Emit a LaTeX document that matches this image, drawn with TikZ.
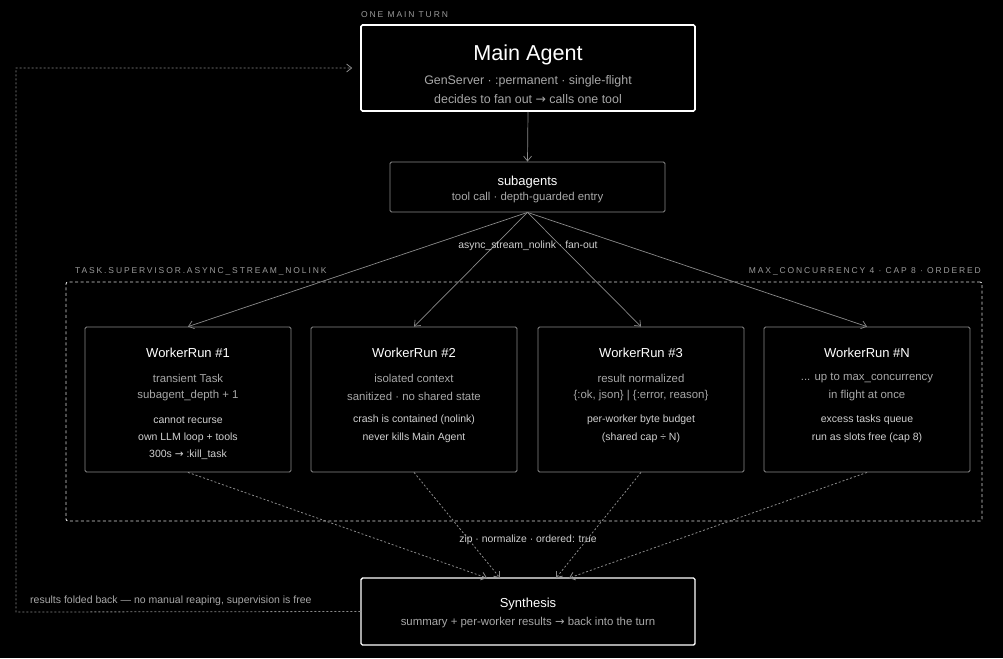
\documentclass[tikz,border=0pt]{standalone}
\usepackage{fontspec}
\setmainfont{Liberation Sans}
\newfontfamily\symf{DejaVu Sans}
\usetikzlibrary{arrows.meta,calc}
\definecolor{bg}{HTML}{000000}
\definecolor{dim}{HTML}{A8A8A8}
\definecolor{soft}{HTML}{D0D0D0}
\definecolor{edge}{HTML}{8A8A8A}
\definecolor{lbl}{HTML}{9A9A9A}
\newcommand{\arr}{{\symf →}}
\tikzset{
  mainbox/.style={draw=white, line width=1.6pt, rounded corners=1.5pt, minimum width=334pt, minimum height=86pt, inner sep=0pt},
  subbox/.style={draw=edge, line width=0.8pt, rounded corners=1.5pt, minimum width=275pt, minimum height=50pt, inner sep=0pt},
  workbox/.style={draw=edge, line width=0.8pt, rounded corners=1.5pt, minimum width=206pt, minimum height=145pt, inner sep=0pt},
  synbox/.style={draw=white, line width=1.4pt, rounded corners=1.5pt, minimum width=334pt, minimum height=67pt, inner sep=0pt},
  ttl/.style={text=white, font=\fontsize{13}{15}\selectfont, inner sep=0pt},
  bigsub/.style={text=dim, font=\fontsize{12.4}{14}\selectfont, inner sep=0pt},
  sub/.style={text=dim, font=\fontsize{11.4}{13}\selectfont, inner sep=0pt},
  low/.style={text=soft, font=\fontsize{10.5}{12}\selectfont, inner sep=0pt},
  lab/.style={text=soft, font=\fontsize{10.4}{12}\selectfont, inner sep=0pt},
  caps/.style={text=lbl, font=\fontsize{8.5}{10}\selectfont\addfontfeatures{LetterSpace=22}, inner sep=0pt},
  fan/.style={draw=edge, line width=0.7pt, -{Straight Barb[length=5pt,width=8pt]}},
  dotarrow/.style={draw=edge, line width=0.8pt, dash pattern=on 2pt off 2pt, -{Straight Barb[length=5pt,width=8pt]}},
}
\begin{document}
\begin{tikzpicture}[x=1pt,y=-1pt]
\fill[bg] (0,0) rectangle (1003,658);
\useasboundingbox (0,0) rectangle (1003,658);

% labels
\node[caps, anchor=west] (lturn) at (361,15) {ONE MAIN TURN};
\node[caps, anchor=west] (lsup) at (75,271) {TASK.SUPERVISOR.ASYNC\_STREAM\_NOLINK};
\node[caps, anchor=east] (lmax) at (981,271) {MAX\_CONCURRENCY 4 · CAP 8 · ORDERED};

% main agent
\node[mainbox] (main) at (528,68) {};
\node[text=white, font=\fontsize{21.6}{24}\selectfont, inner sep=0pt] (maint) at (528,55) {Main Agent};
\node[bigsub] (mains1) at (528,81) {GenServer · :permanent · single-flight};
\node[bigsub] (mains2) at (528,99) {decides to fan out \arr\ calls one tool};

% subagents
\node[subbox] (subag) at (527.5,187) {};
\node[ttl] (subt) at (527.5,182) {subagents};
\node[sub] (subs) at (527.5,198) {tool call · depth-guarded entry};
\draw[fan] (main.south) -- (subag.north);

% container
\node[draw=white!85!black, line width=0.9pt, rounded corners=2pt, dash pattern=on 3pt off 2.5pt, minimum width=916pt, minimum height=239pt, inner sep=0pt] (cont) at (524,401.5) {};

% workers
\foreach \n/\cx in {w1/188,w2/414,w3/641,w4/867}{
  \node[workbox] (\n) at (\cx,399.5) {};
}
\node[ttl] (w1t) at (188,353) {WorkerRun \#1};
\node[sub] (w1a) at (188,378) {transient Task};
\node[sub] (w1b) at (188,396) {subagent\_depth + 1};
\node[low] (w1c) at (188,420) {cannot recurse};
\node[low] (w1d) at (188,437.5) {own LLM loop + tools};
\node[low] (w1e) at (188,455) {300s \arr\ :kill\_task};

\node[ttl] (w2t) at (414,353) {WorkerRun \#2};
\node[sub] (w2a) at (414,378) {isolated context};
\node[sub] (w2b) at (414,396) {sanitized · no shared state};
\node[low] (w2c) at (414,420) {crash is contained (nolink)};
\node[low] (w2d) at (414,437.5) {never kills Main Agent};

\node[ttl] (w3t) at (641,353) {WorkerRun \#3};
\node[sub] (w3a) at (641,378) {result normalized};
\node[sub] (w3b) at (641,396) {\{:ok, json\} | \{:error, reason\}};
\node[low] (w3c) at (641,420) {per-worker byte budget};
\node[low] (w3d) at (641,437.5) {(shared cap ÷ N)};

\node[ttl] (w4t) at (867,353) {WorkerRun \#N};
\node[sub] (w4a) at (867,378) {... up to max\_concurrency};
\node[sub] (w4b) at (867,396) {in flight at once};
\node[low] (w4c) at (867,420) {excess tasks queue};
\node[low] (w4d) at (867,437.5) {run as slots free (cap 8)};

% fan out
\foreach \n in {w1,w2,w3,w4}{
  \draw[fan] (subag.south) -- (\n.north);
}
\node[lab] (fanl) at (528,246) {async\_stream\_nolink · fan-out};

% synthesis
\node[synbox] (syn) at (528,611.5) {};
\node[ttl] (synt) at (528,604) {Synthesis};
\node[sub] (syns) at (528,623) {summary + per-worker results \arr\ back into the turn};
\coordinate (s1) at (487,578);
\coordinate (s2) at (500,578);
\coordinate (s3) at (556,578);
\coordinate (s4) at (569,578);
\draw[dotarrow] (w1.south) -- (s1);
\draw[dotarrow] (w2.south) -- (s2);
\draw[dotarrow] (w3.south) -- (s3);
\draw[dotarrow] (w4.south) -- (s4);
\node[lab] (zipl) at (528,540) {zip · normalize · ordered: true};

% feedback loop
\coordinate (fb1) at (16,612);
\coordinate (fb2) at (16,68);
\draw[dotarrow] (syn.west) -- (fb1) -- (fb2) -- ([xshift=-8pt]main.west);
\node[sub, anchor=west, font=\fontsize{10.5}{12}\selectfont] (fbl) at (30,601) {results folded back — no manual reaping, supervision is free};
\end{tikzpicture}
\end{document}
